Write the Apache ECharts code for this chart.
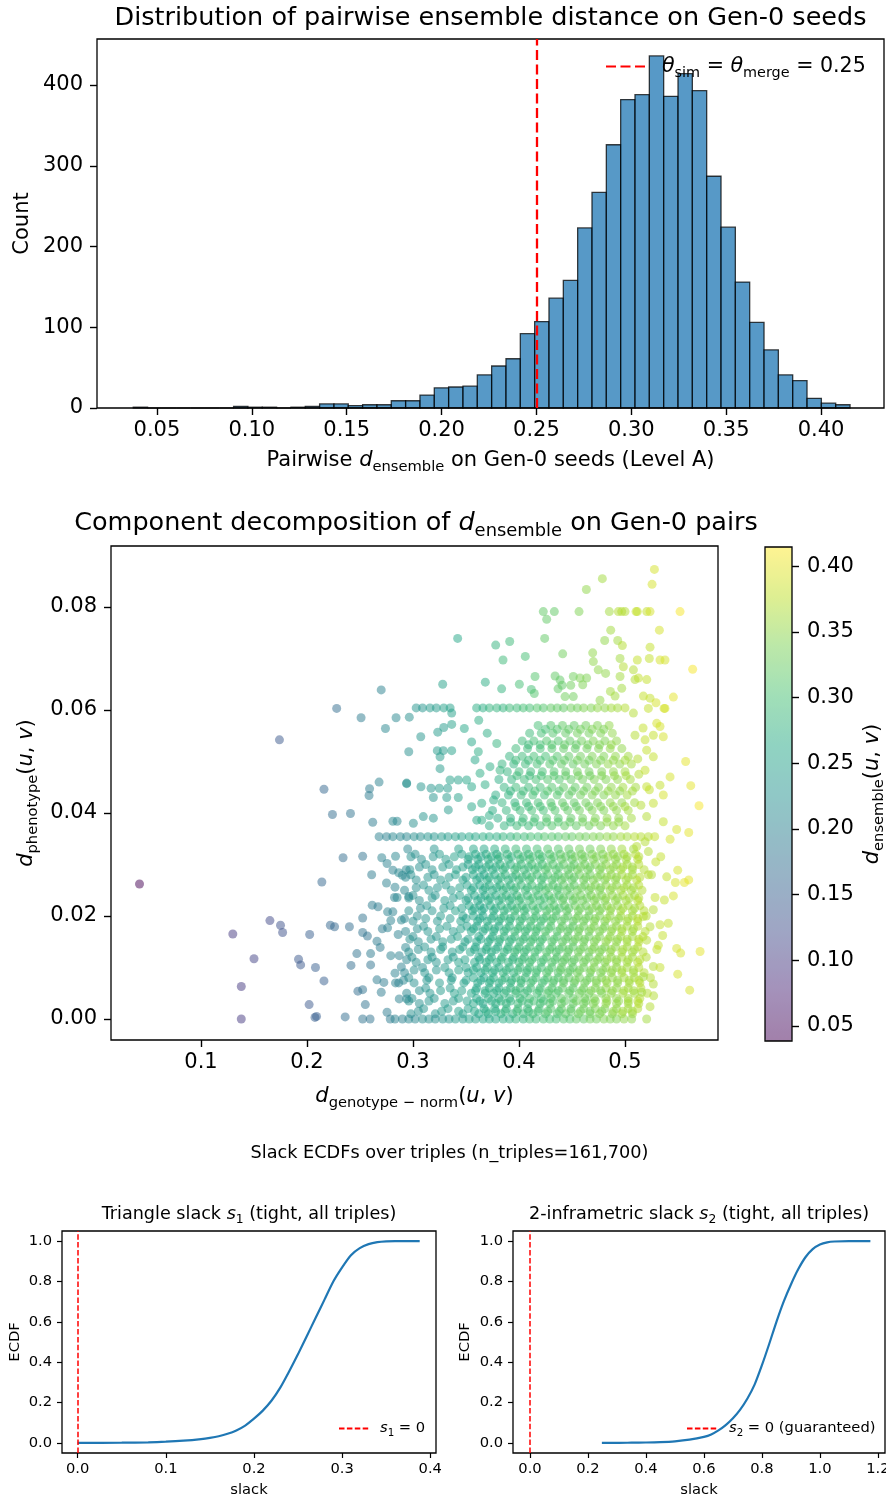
<!DOCTYPE html>
<html>
<head>
<meta charset="utf-8">
<title>Gen-0 ensemble distances</title>
<script src="https://cdn.jsdelivr.net/npm/echarts@6.0.0/dist/echarts.min.js"></script>
<style>
html,body{margin:0;padding:0;background:#ffffff;}
#chart{width:886px;height:1501px;}
</style>
</head>
<body>
<div id="chart"></div>
<script>
// ================= DATA =================
// Histogram of pairwise d_ensemble (50 bins)
const histBinStart = 0.0375;
const histBinWidth = 0.007556;
const histCounts = [1,0,0,0,0,0,0,2,1,1,0,1,2,5,5,3,4,4,9,9,16,25,26,27,41,52,61,92,107,136,158,223,267,326,382,388,436,386,414,393,287,224,156,106,72,41,34,12,6,4];
const theta = 0.25;
const histXTicks = [0.05,0.10,0.15,0.20,0.25,0.30,0.35,0.40];
const histYTicks = [0,100,200,300,400];

// Scatter: rows [d_phenotype, [d_genotype-norm ...], [d_ensemble ...]]
const coreRows = [
[.001,[.298,.321,.347,.362,.371,.383,.394,.404,.413,.425,.436,.444,.456,.467,.476,.488,.497,.507],[.22,.23,.25,.26,.27,.28,.28,.29,.30,.31,.31,.32,.33,.33,.34,.35,.36,.36]],
[.002,[.31,.333,.352,.367,.377,.388,.399,.408,.419,.43,.44,.449,.461,.472,.481,.492,.503,.512],[.23,.24,.25,.26,.27,.28,.29,.29,.30,.31,.32,.32,.33,.34,.34,.35,.36,.37]],
[.003,[.306,.33,.357,.366,.378,.388,.399,.409,.42,.429,.44,.451,.461,.47,.482,.492,.503,.513],[.22,.24,.26,.26,.27,.28,.29,.29,.30,.31,.32,.32,.33,.34,.35,.35,.36,.37]],
[.004,[.299,.32,.343,.36,.371,.381,.391,.401,.41,.421,.43,.44,.451,.462,.471,.482,.492,.503,.514],[.22,.23,.25,.26,.27,.27,.28,.29,.30,.30,.31,.32,.32,.33,.34,.35,.35,.36,.37]],
[.005,[.294,.316,.339,.355,.368,.376,.386,.397,.405,.417,.427,.435,.447,.457,.466,.478,.487,.498,.509,.521],[.21,.23,.25,.26,.27,.27,.28,.29,.29,.30,.31,.31,.32,.33,.33,.34,.35,.36,.36,.37]],
[.006,[.312,.335,.36,.372,.381,.392,.401,.411,.42,.431,.441,.451,.461,.472,.482,.492,.503,.515],[.23,.24,.26,.27,.27,.28,.29,.30,.30,.31,.32,.32,.33,.34,.35,.35,.36,.37]],
[.007,[.301,.325,.348,.361,.372,.381,.392,.402,.411,.422,.432,.442,.452,.462,.473,.483,.493,.504,.514],[.22,.24,.25,.26,.27,.27,.28,.29,.30,.30,.31,.32,.32,.33,.34,.35,.35,.36,.37]],
[.008,[.296,.315,.337,.357,.367,.376,.387,.397,.406,.416,.427,.437,.447,.457,.467,.478,.488,.499,.509,.524],[.22,.23,.24,.26,.26,.27,.28,.29,.29,.30,.31,.31,.32,.33,.33,.34,.35,.36,.36,.37]],
[.009,[.292,.311,.334,.352,.364,.375,.385,.395,.407,.416,.426,.437,.446,.455,.467,.477,.487,.497,.508,.518],[.21,.23,.24,.25,.26,.27,.28,.28,.29,.30,.31,.31,.32,.33,.33,.34,.35,.36,.36,.37]],
[.010,[.309,.33,.35,.36,.37,.381,.391,.401,.41,.421,.431,.44,.451,.461,.471,.482,.492,.502,.513],[.22,.24,.25,.26,.27,.27,.28,.29,.30,.30,.31,.32,.32,.33,.34,.35,.35,.36,.37]],
[.011,[.303,.322,.343,.358,.369,.379,.39,.4,.41,.421,.431,.441,.45,.461,.471,.481,.492,.502,.512],[.22,.23,.25,.26,.27,.27,.28,.29,.30,.30,.31,.32,.32,.33,.34,.34,.35,.36,.37]],
[.012,[.299,.318,.338,.362,.374,.384,.395,.405,.415,.426,.436,.445,.456,.466,.476,.487,.497,.507,.52],[.22,.23,.24,.26,.27,.28,.28,.29,.30,.31,.31,.32,.33,.33,.34,.35,.36,.36,.37]],
[.013,[.296,.317,.337,.354,.365,.374,.386,.396,.405,.415,.426,.435,.446,.456,.466,.476,.486,.497,.507,.517],[.22,.23,.24,.26,.26,.27,.28,.29,.29,.30,.31,.31,.32,.33,.33,.34,.35,.36,.36,.37]],
[.014,[.311,.328,.347,.359,.37,.38,.39,.4,.41,.42,.431,.441,.451,.461,.471,.481,.491,.502,.512],[.23,.24,.25,.26,.27,.27,.28,.29,.30,.30,.31,.32,.32,.33,.34,.34,.35,.36,.37]],
[.015,[.305,.328,.349,.36,.371,.381,.391,.401,.411,.42,.431,.441,.451,.461,.471,.482,.492,.502,.513],[.22,.24,.25,.26,.27,.27,.28,.29,.30,.30,.31,.32,.32,.33,.34,.35,.35,.36,.37]],
[.016,[.3,.322,.342,.362,.375,.386,.396,.406,.415,.425,.436,.446,.456,.466,.476,.486,.496,.507,.517],[.22,.23,.25,.26,.27,.28,.29,.29,.30,.31,.31,.32,.33,.33,.34,.35,.36,.36,.37]],
[.017,[.293,.314,.338,.355,.366,.376,.386,.396,.406,.416,.425,.436,.446,.456,.466,.476,.487,.497,.507,.519],[.21,.23,.24,.26,.26,.27,.28,.29,.29,.30,.31,.31,.32,.33,.33,.34,.35,.36,.36,.37]],
[.018,[.31,.332,.351,.36,.371,.381,.391,.401,.411,.42,.43,.441,.451,.461,.471,.481,.492,.502,.512],[.23,.24,.25,.26,.27,.27,.28,.29,.30,.30,.31,.32,.32,.33,.34,.34,.35,.36,.37]],
[.019,[.3,.323,.345,.361,.37,.381,.391,.401,.411,.421,.43,.44,.451,.461,.471,.481,.491,.502,.512],[.22,.23,.25,.26,.27,.27,.28,.29,.30,.30,.31,.32,.32,.33,.34,.34,.35,.36,.37]],
[.020,[.304,.326,.347,.357,.366,.376,.386,.396,.406,.416,.426,.435,.446,.456,.466,.476,.486,.496,.507,.52],[.22,.24,.25,.26,.26,.27,.28,.29,.29,.30,.31,.31,.32,.33,.33,.34,.35,.36,.36,.37]],
[.021,[.296,.318,.34,.356,.365,.376,.386,.396,.405,.415,.426,.435,.445,.456,.466,.476,.486,.496,.507,.518],[.22,.23,.25,.26,.26,.27,.28,.29,.29,.30,.31,.31,.32,.33,.33,.34,.35,.36,.36,.37]],
[.022,[.313,.335,.353,.363,.373,.383,.393,.403,.413,.423,.433,.443,.453,.463,.473,.483,.493,.503,.514],[.23,.24,.26,.26,.27,.28,.28,.29,.30,.30,.31,.32,.33,.33,.34,.35,.35,.36,.37]],
[.023,[.306,.33,.35,.361,.371,.381,.391,.4,.41,.42,.43,.441,.451,.46,.471,.481,.491,.501,.512],[.22,.24,.25,.26,.27,.27,.28,.29,.30,.30,.31,.32,.32,.33,.34,.34,.35,.36,.37]],
[.024,[.3,.321,.344,.358,.368,.378,.388,.398,.408,.418,.428,.438,.448,.458,.468,.478,.488,.498,.509],[.22,.23,.25,.26,.27,.27,.28,.29,.29,.30,.31,.31,.32,.33,.34,.34,.35,.36,.36]],
[.025,[.292,.315,.336,.355,.366,.375,.385,.395,.406,.416,.425,.436,.445,.455,.466,.476,.486,.496,.506,.516],[.21,.23,.24,.26,.26,.27,.28,.28,.29,.30,.31,.31,.32,.33,.33,.34,.35,.36,.36,.37]],
[.026,[.31,.331,.351,.363,.372,.382,.392,.402,.412,.422,.432,.442,.452,.462,.472,.482,.492,.502,.513],[.23,.24,.25,.26,.27,.28,.28,.29,.30,.30,.31,.32,.32,.33,.34,.35,.35,.36,.37]],
[.027,[.303,.326,.347,.36,.37,.38,.39,.4,.41,.421,.431,.44,.45,.461,.47,.481,.491,.501,.511],[.22,.24,.25,.26,.27,.27,.28,.29,.30,.30,.31,.32,.32,.33,.34,.34,.35,.36,.37]],
[.028,[.298,.32,.34,.357,.367,.377,.387,.397,.407,.417,.427,.437,.447,.457,.467,.477,.487,.497,.507,.522],[.22,.23,.25,.26,.26,.27,.28,.29,.29,.30,.31,.31,.32,.33,.33,.34,.35,.36,.36,.37]],
[.029,[.297,.318,.341,.356,.365,.375,.385,.396,.405,.415,.425,.435,.446,.455,.465,.476,.486,.496,.507,.518],[.22,.23,.25,.26,.26,.27,.28,.29,.29,.30,.31,.31,.32,.33,.33,.34,.35,.36,.36,.37]],
[.030,[.312,.334,.352,.362,.372,.382,.392,.402,.412,.422,.432,.442,.452,.462,.472,.482,.492,.502,.513],[.23,.24,.25,.26,.27,.28,.28,.29,.30,.30,.31,.32,.32,.33,.34,.35,.35,.36,.37]],
[.031,[.308,.331,.352,.361,.371,.38,.39,.401,.41,.42,.43,.44,.45,.46,.47,.48,.491,.501,.512],[.22,.24,.25,.26,.27,.27,.28,.29,.30,.30,.31,.32,.32,.33,.34,.34,.35,.36,.37]],
[.032,[.302,.325,.346,.359,.369,.379,.389,.399,.409,.419,.429,.439,.449,.459,.469,.479,.489,.499,.51],[.22,.24,.25,.26,.27,.27,.28,.29,.29,.30,.31,.32,.32,.33,.34,.34,.35,.36,.37]],
[.033,[.295,.32,.343,.357,.367,.377,.387,.397,.407,.417,.427,.437,.447,.457,.467,.477,.487,.497,.508],[.21,.23,.25,.26,.26,.27,.28,.29,.29,.30,.31,.31,.32,.33,.33,.34,.35,.36,.36]]
];
const coreFillRows = [
[.0015,[.358,.369,.378,.387,.398,.409,.418,.427,.438,.449,.458,.467,.478,.489,.498,.507],[.26,.27,.27,.28,.29,.29,.30,.31,.31,.32,.33,.33,.34,.35,.36,.36]],
[.0035,[.363,.374,.383,.392,.403,.414,.423,.432,.443,.454,.463,.472,.483,.494,.503,.512],[.26,.27,.28,.28,.29,.30,.30,.31,.32,.33,.33,.34,.35,.35,.36,.37]],
[.0055,[.359,.368,.379,.388,.397,.408,.419,.428,.437,.448,.459,.468,.477,.488,.499,.508],[.26,.27,.27,.28,.29,.29,.30,.31,.31,.32,.33,.34,.34,.35,.36,.36]],
[.0075,[.364,.373,.384,.393,.402,.413,.424,.433,.442,.453,.464,.473,.482,.493,.504,.513],[.26,.27,.28,.28,.29,.30,.30,.31,.32,.33,.33,.34,.35,.35,.36,.37]],
[.0095,[.357,.368,.377,.388,.399,.408,.417,.428,.439,.448,.457,.468,.479,.488,.497,.508],[.26,.27,.27,.28,.29,.29,.30,.31,.32,.32,.33,.34,.34,.35,.36,.36]],
[.0115,[.363,.372,.383,.394,.403,.412,.423,.434,.443,.452,.463,.474,.483,.492,.503,.514],[.26,.27,.28,.28,.29,.30,.30,.31,.32,.32,.33,.34,.35,.35,.36,.37]],
[.0135,[.358,.369,.378,.389,.398,.407,.418,.429,.438,.447,.458,.469,.478,.487,.498,.509],[.26,.27,.27,.28,.29,.29,.30,.31,.31,.32,.33,.34,.34,.35,.36,.36]],
[.0155,[.364,.373,.382,.393,.404,.413,.422,.433,.444,.453,.462,.473,.484,.493,.502,.513],[.26,.27,.28,.28,.29,.30,.30,.31,.32,.33,.33,.34,.35,.35,.36,.37]],
[.0175,[.357,.368,.377,.388,.399,.408,.417,.428,.439,.448,.457,.468,.479,.488,.497,.508],[.26,.27,.27,.28,.29,.29,.30,.31,.32,.32,.33,.34,.34,.35,.36,.36]],
[.0195,[.363,.374,.383,.392,.403,.414,.423,.432,.443,.454,.463,.472,.483,.494,.503,.512],[.26,.27,.28,.28,.29,.30,.30,.31,.32,.33,.33,.34,.35,.35,.36,.37]],
[.0215,[.358,.367,.378,.389,.398,.407,.418,.429,.438,.447,.458,.469,.478,.487,.498,.509],[.26,.26,.27,.28,.29,.29,.30,.31,.31,.32,.33,.34,.34,.35,.36,.36]],
[.0235,[.364,.373,.384,.393,.402,.413,.424,.433,.442,.453,.464,.473,.482,.493,.504,.513],[.26,.27,.28,.28,.29,.30,.30,.31,.32,.33,.33,.34,.35,.35,.36,.37]],
[.0255,[.357,.368,.379,.388,.397,.408,.419,.428,.437,.448,.459,.468,.477,.488,.499,.508],[.26,.27,.27,.28,.29,.29,.30,.31,.31,.32,.33,.34,.34,.35,.36,.36]],
[.0275,[.363,.372,.383,.394,.403,.412,.423,.434,.443,.452,.463,.474,.483,.492,.503,.514],[.26,.27,.28,.28,.29,.30,.30,.31,.32,.32,.33,.34,.35,.35,.36,.37]],
[.0295,[.359,.369,.378,.387,.398,.409,.418,.427,.438,.449,.458,.467,.478,.489,.498,.507],[.26,.27,.27,.28,.29,.29,.30,.31,.31,.32,.33,.33,.34,.35,.36,.36]],
[.0315,[.364,.374,.382,.393,.404,.413,.422,.433,.444,.453,.462,.473,.484,.493,.502,.513],[.26,.27,.28,.28,.29,.30,.30,.31,.32,.33,.33,.34,.35,.35,.36,.37]]
];
const leftFillRows = [
[.0015,[.305,.327,.343],[.22,.24,.25]],
[.0035,[.296,.315,.338,.351],[.22,.23,.24,.25]],
[.0055,[.306,.326,.346],[.22,.24,.25]],
[.0075,[.291,.313,.336,.35],[.21,.23,.24,.25]],
[.0095,[.301,.322,.343],[.22,.23,.25]],
[.0115,[.294,.314,.333,.349],[.21,.23,.24,.25]],
[.0135,[.305,.326,.344],[.22,.24,.25]],
[.0155,[.297,.317,.336,.352],[.22,.23,.24,.25]],
[.0175,[.304,.325,.345],[.22,.24,.25]],
[.0195,[.292,.312,.335,.35],[.21,.23,.24,.25]],
[.0215,[.307,.329,.346],[.22,.24,.25]],
[.0235,[.296,.318,.338,.352],[.22,.23,.24,.25]],
[.0255,[.303,.323,.344],[.22,.23,.25]],
[.0275,[.293,.314,.334,.35],[.21,.23,.24,.25]],
[.0295,[.306,.328,.347],[.22,.24,.25]],
[.0315,[.298,.319,.339,.353],[.22,.23,.25,.26]]
];
const upperRows = [
[.0375,[.372,.386,.398,.409,.42,.431,.443,.454,.466,.477,.489,.5],[.27,.28,.29,.29,.30,.31,.32,.32,.33,.34,.35,.36]],
[.039,[.38,.392,.404,.415,.426,.437,.449,.46,.472,.483,.494,.506],[.27,.28,.29,.30,.31,.31,.32,.33,.34,.35,.35,.36]],
[.0405,[.375,.388,.401,.412,.423,.434,.446,.457,.469,.48,.492,.503],[.27,.28,.29,.30,.30,.31,.32,.33,.34,.34,.35,.36]],
[.042,[.384,.396,.407,.418,.43,.441,.452,.463,.474,.486,.497,.509],[.28,.28,.29,.30,.31,.32,.32,.33,.34,.35,.35,.36]],
[.0435,[.378,.39,.402,.413,.424,.436,.447,.458,.469,.48,.491,.502],[.27,.28,.29,.30,.30,.31,.32,.33,.34,.34,.35,.36]],
[.045,[.386,.397,.409,.42,.431,.442,.453,.464,.475,.487,.498,.51],[.28,.29,.29,.30,.31,.32,.32,.33,.34,.35,.36,.36]],
[.0465,[.381,.393,.405,.416,.427,.438,.449,.46,.471,.482,.493,.505],[.27,.28,.29,.30,.31,.31,.32,.33,.34,.34,.35,.36]],
[.048,[.389,.4,.411,.422,.433,.444,.455,.466,.478,.489,.5],[.28,.29,.29,.30,.31,.32,.33,.33,.34,.35,.36]],
[.0495,[.384,.395,.406,.417,.429,.44,.451,.462,.473,.484,.495,.506],[.28,.28,.29,.30,.31,.32,.32,.33,.34,.35,.35,.36]],
[.051,[.391,.403,.414,.425,.436,.447,.458,.469,.48,.491,.503],[.28,.29,.30,.30,.31,.32,.33,.34,.34,.35,.36]],
[.0525,[.397,.408,.42,.431,.442,.453,.464,.475,.486,.497],[.29,.29,.30,.31,.32,.32,.33,.34,.35,.35]],
[.054,[.403,.414,.426,.437,.448,.459,.47,.481,.492],[.29,.30,.31,.31,.32,.33,.34,.34,.35]],
[.0555,[.41,.421,.432,.444,.455,.466,.477,.488],[.29,.30,.31,.32,.33,.33,.34,.35]],
[.057,[.418,.43,.441,.452,.463,.474,.485],[.30,.31,.32,.32,.33,.34,.35]]
];
const upperFillRows = [
[.03825,[.392,.403,.414,.426,.437,.448,.46,.471,.483,.494],[.28,.29,.30,.31,.31,.32,.33,.34,.35,.35]],
[.04125,[.397,.409,.42,.431,.443,.454,.466,.477,.489,.5],[.29,.29,.30,.31,.32,.32,.33,.34,.35,.36]],
[.04425,[.392,.404,.415,.427,.438,.45,.461,.472,.484,.495,.507],[.28,.29,.30,.31,.31,.32,.33,.34,.35,.35,.36]],
[.04725,[.398,.41,.421,.433,.444,.456,.467,.478,.49,.501],[.29,.29,.30,.31,.32,.33,.33,.34,.35,.36]],
[.05025,[.397,.409,.42,.432,.443,.455,.466,.477,.489,.5],[.29,.29,.30,.31,.32,.33,.33,.34,.35,.36]],
[.05325,[.409,.42,.431,.443,.454,.465,.476,.487],[.29,.30,.31,.32,.32,.33,.34,.35]],
[.05625,[.425,.436,.447,.458,.469,.48],[.30,.31,.32,.33,.34,.34]]
];
const bandRows = [
[0,[.29,.296,.302,.309,.315,.321,.328,.334,.34,.347,.353,.359,.366,.372,.378,.385,.391,.397,.404,.41,.416,.423,.429,.435,.442,.448,.454,.461,.467,.473,.48,.486,.492,.499],
 [.20,.21,.21,.22,.22,.22,.23,.23,.24,.24,.25,.25,.26,.26,.26,.27,.27,.28,.28,.29,.29,.30,.30,.30,.31,.31,.32,.32,.33,.33,.34,.34,.34,.35]],
[.0354,[.268,.275,.281,.288,.294,.301,.307,.314,.32,.327,.333,.34,.346,.353,.359,.366,.372,.379,.385,.392,.398,.405,.411,.418,.424,.431,.437,.444,.45,.457,.463,.47,.476,.483,.489,.496,.502,.509,.515,.522,.528],
 [.20,.20,.21,.21,.21,.22,.22,.23,.23,.24,.24,.25,.25,.26,.26,.27,.27,.27,.28,.28,.29,.29,.30,.30,.31,.31,.31,.32,.32,.33,.33,.34,.34,.35,.35,.36,.36,.37,.37,.37,.38]],
[.0604,[.303,.309,.316,.322,.329,.335,.36,.366,.372,.379,.385,.391,.398,.404,.41,.417,.423,.43,.436,.442,.449,.455,.461,.468,.474,.481,.487,.493,.5],
 [.23,.23,.24,.24,.25,.25,.27,.27,.28,.28,.28,.29,.29,.30,.30,.31,.31,.32,.32,.32,.33,.33,.34,.34,.35,.35,.36,.36,.37]]
];
// individual points [d_genotype-norm, d_phenotype, d_ensemble]
const sparseLeft = [
[.042,.0262,.039],[.174,.0542,.14],[.13,.0165,.10],[.15,.0117,.11],[.138,.0063,.10],[.138,0,.10],[.165,.0191,.12],[.175,.0182,.13],[.177,.0168,.13],[.192,.0116,.14],
[.194,.0105,.14],[.2025,.0164,.15],[.208,.01,.15],[.216,.0074,.15],[.202,.0028,.14],[.2075,.0003,.15],[.209,.0005,.15],[.214,.0266,.16],[.228,.0603,.17],[.216,.0446,.16],
[.224,.0397,.17],[.241,.0399,.18],[.234,.0313,.17],[.222,.0182,.16],[.226,.0179,.16],[.24,.0179,.17],[.236,.0004,.17],[.2415,.0104,.17],[.247,.0127,.18],[.251,.0585,.19],
[.27,.0639,.20],[.274,.0564,.21],[.284,.0585,.21],[.2965,.0586,.22],[.296,.0519,.22],[.268,.046,.20],[.259,.0447,.19],[.2585,.0434,.19],[.294,.0457,.22],[.262,.0382,.19],
[.281,.0384,.21],[.285,.0384,.21],[.2525,.0316,.18],[.2705,.0313,.20],[.2835,.0316,.21],[.2755,.0302,.20],[.281,.0289,.20],[.2865,.0284,.21],[.29,.0279,.21],[.2935,.029,.21],
[.261,.028,.19],[.275,.0264,.20],[.283,.0256,.20],[.2825,.0236,.20],[.285,.0236,.21],[.296,.0238,.21],[.2615,.0221,.19],[.267,.0218,.19],[.276,.0208,.20],[.281,.0208,.20],
[.289,.0192,.21],[.279,.0191,.20],[.2525,.0196,.18],[.2525,.0168,.18],[.257,.0161,.18],[.276,.0177,.20],[.271,.0175,.19],[.286,.0164,.20],[.266,.0151,.19],[.269,.0139,.19],
[.279,.0123,.20],[.287,.0123,.20],[.293,.0139,.21],[.26,.0127,.19],[.26,.0105,.18],[.289,.0101,.20],[.283,.0089,.20],[.266,.0076,.19],[.2725,.0071,.19],[.2835,.007,.20],
[.2865,.007,.20],[.27,.0052,.19],[.248,.0054,.17],[.2525,.0057,.18],[.255,.0028,.18],[.287,.0039,.20],[.294,.0039,.21],[.2755,.0013,.19],[.2525,0,.18],[.2595,0,.18],
[.2785,0,.19],[.283,0,.20]
];
const upperLeft = [
[.3073,.0548,.23],[.3233,.0557,.24],[.329,.0566,.24],[.3365,.0572,.25],[.3484,.0564,.26],[.3365,.0594,.25],[.3229,.0521,.24],[.3286,.0521,.24],[.3365,.0521,.25],[.3255,.0509,.24],
[.3255,.0486,.24],[.3075,.0451,.23],[.294,.0458,.22],[.317,.0448,.23],[.3248,.0448,.24],[.3327,.0448,.24],[.3349,.0464,.25],[.3427,.0464,.25],[.3506,.0464,.26],[.3192,.043,.23],
[.3318,.043,.24],[.3427,.043,.25],[.3553,.0538,.26],[.3616,.0519,.27],[.3585,.0503,.26],[.3726,.049,.27],[.3821,.0483,.28],[.3632,.0477,.27],[.3553,.0451,.26],[.3553,.0412,.26],
[.3648,.0419,.27],[.3333,.0406,.24],[.3097,.0393,.23],[.3192,.039,.23],[.3003,.038,.22],[.3601,.0386,.26],[.3648,.0386,.27],[.37,.0555,.27],[.376,.0425,.27],[.368,.0455,.27],
[.379,.0535,.28],[.372,.0395,.27],[.362,.058,.27]
];
const upperSparse = [
[.5277,.0873,.39],[.4786,.0855,.36],[.5255,.0844,.39],[.4635,.0834,.35],
[.4229,.0791,.32],[.4333,.0791,.32],[.4566,.0791,.34],[.4852,.0791,.36],[.4937,.0791,.37],[.4969,.0791,.37],[.5,.0791,.37],[.5104,.0791,.38],[.5116,.0791,.38],[.5205,.0791,.38],[.5236,.0791,.39],[.5519,.0791,.41],
[.4261,.0776,.32],[.4865,.0755,.36],[.5324,.0755,.39],[.3421,.0739,.26],[.4242,.0739,.32],[.4808,.0735,.35],[.4931,.0735,.36],[.4975,.0725,.37],[.378,.0726,.28],[.3912,.0733,.29],
[.5236,.0722,.38],[.4695,.0711,.35],[.4412,.0709,.33],[.4059,.0704,.30],[.3849,.0697,.29],[.4953,.07,.36],[.5116,.0697,.38],[.5229,.07,.38],[.533,.0697,.39],[.5377,.0697,.39],
[.4701,.0694,.35],[.5638,.0679,.41],[.4984,.0684,.37],[.4747,.0678,.35],[.4817,.0671,.35],[.4151,.0665,.31],[.434,.0666,.32],[.5079,.0678,.37],[.5126,.0662,.38],[.5205,.0659,.38],
[.5094,.0659,.37],[.328,.065,.25],[.3682,.0654,.27],[.3836,.0641,.28],[.4003,.065,.30],[.4116,.064,.30],[.4144,.0632,.31],[.4368,.0641,.32],[.4406,.0648,.32],[.4488,.0648,.33],
[.4434,.0626,.33],[.4512,.0626,.33],[.4575,.0662,.34],[.4638,.0662,.34],[.4601,.0649,.34],[.4862,.0636,.36],[.4906,.0627,.36],[.4953,.0665,.36],[.4969,.0642,.36],[.5456,.0625,.40],
[.5173,.0627,.38],[.5236,.0623,.38],[.5292,.0614,.39],[.5368,.0603,.39],[.4764,.0619,.35],[.4387,.0658,.32],[.4512,.0665,.33]
];
const rightSparse = [
[.5079,.0594,.37],[.522,.0603,.38],[.5299,.0574,.39],[.5377,.0603,.39],[.533,.0568,.39],[.5361,.0548,.39],[.5267,.0551,.38],[.5189,.0542,.38],[.5094,.0551,.37],[.5204,.0522,.38],
[.5267,.0509,.38],[.5189,.0483,.38],[.5204,.0451,.38],[.533,.0454,.38],[.5361,.0435,.39],[.5425,.047,.39],[.5267,.0419,.38],[.5204,.0393,.37],[.5361,.0383,.38],[.5189,.0344,.37],
[.511,.0335,.37],[.5572,.05,.40],[.562,.0453,.40],[.5698,.0414,.41],[.5487,.0368,.39],[.5601,.0362,.40],[.5425,.0349,.39],[.5337,.0315,.38],[.5497,.0289,.39],[.5393,.0276,.38],
[.5475,.0265,.39],[.556,.0265,.40],[.5601,.027,.40],[.5456,.0239,.39],[.5371,.0231,.38],[.5283,.0236,.38],[.5408,.0186,.38],[.533,.0183,.38],[.5236,.0179,.37],[.5487,.0137,.39],
[.5525,.0128,.39],[.5708,.0131,.40],[.5497,.0087,.39],[.561,.0056,.39],[.5204,0,.36],[.5063,0,.35],[.5267,.0102,.37],[.533,.01,.38],[.5173,.0082,.36],[.5157,.0052,.36],
[.5267,.0068,.37],[.5267,.0212,.37],[.5173,.0199,.37],[.5204,.0153,.37],[.5236,.0024,.37],[.5355,.0162,.38],[.5314,.0143,.38],[.515,.0415,.37],[.513,.0475,.37],[.517,.0565,.38],
[.512,.0505,.37],[.523,.0445,.38],[.525,.028,.37],[.529,.0305,.38],[.522,.0325,.37],[.527,.0045,.37],[.53,.0135,.38]
];
const scatterXTicks = [0.1,0.2,0.3,0.4,0.5];
const scatterYTicks = [0,0.02,0.04,0.06,0.08];
const colorbarTicks = [0.05,0.10,0.15,0.20,0.25,0.30,0.35,0.40];
const ensembleMin = 0.0386, ensembleMax = 0.4145;

// ECDFs of slack
const ecdf1X = [0,.05,.08,.1,.12,.14,.15,.16,.17,.18,.19,.2,.21,.22,.23,.24,.25,.26,.27,.28,.29,.3,.31,.32,.33,.34,.35,.36,.388];
const ecdf1Y = [0,.001,.003,.006,.011,.019,.025,.033,.045,.062,.086,.12,.16,.21,.275,.355,.44,.53,.62,.71,.80,.87,.93,.965,.985,.995,.999,1,1];
const ecdf2X = [.248,.3,.35,.4,.45,.5,.55,.6,.625,.65,.675,.7,.725,.75,.775,.8,.825,.85,.875,.9,.925,.95,.975,1.0,1.025,1.05,1.1,1.174];
const ecdf2Y = [0,0,.001,.002,.004,.008,.016,.03,.042,.062,.088,.122,.165,.22,.29,.385,.49,.6,.7,.785,.86,.92,.96,.983,.994,.998,1,1];
const slackZero = 0;
const ecdf1XTicks = [0,0.1,0.2,0.3,0.4];
const ecdf2XTicks = [0,0.2,0.4,0.6,0.8,1.0,1.2];
const ecdfYTicks = [0,0.2,0.4,0.6,0.8,1.0];

// ================= BUILD =================
const FONT = 'DejaVu Sans';
const BLACK = '#000000';
const viridis = ['#440154','#482475','#414487','#355f8d','#2a788e','#21918c','#22a884','#44bf70','#7ad151','#bddf26','#fde725'];
const viridisPale = ['#a280aa','#a491ba','#a0a2c3','#9aafc6','#94bbc6','#90c8c6','#90d3c1','#a1dfb7','#bce8a8','#deef92','#fef392'];

const histData = histCounts.map((c, i) => [histBinStart + i * histBinWidth, histBinStart + (i + 1) * histBinWidth, c]);
const scatterData = [];
[coreRows, coreFillRows, leftFillRows, upperRows, upperFillRows, bandRows].forEach(rows => rows.forEach(r => r[1].forEach((x, j) => scatterData.push([x, r[0], r[2][j]]))));
[sparseLeft, upperLeft, upperSparse, rightSparse].forEach(a => a.forEach(p => scatterData.push(p)));
const ecdf1 = ecdf1X.map((x, i) => [x, ecdf1Y[i]]);
const ecdf2 = ecdf2X.map((x, i) => [x, ecdf2Y[i]]);

function rich(base) {
  const lh = Math.round(base * 1.35);
  return {
    n: {fontSize: base, fontFamily: FONT, color: BLACK, lineHeight: lh},
    it: {fontSize: base, fontFamily: FONT, fontStyle: 'italic', color: BLACK, lineHeight: lh},
    sub: {fontSize: Math.round(base * 7) / 10, fontFamily: FONT, color: BLACK, verticalAlign: 'bottom'}
  };
}
function axis(o) {
  return {
    type: 'value',
    gridIndex: o.grid,
    min: o.min, max: o.max,
    position: o.position,
    axisLine: {show: false, onZero: false},
    splitLine: {show: false},
    axisTick: {show: true, inside: false, length: o.tick, lineStyle: {color: BLACK, width: o.tw || 1.4}, customValues: o.ticks},
    axisLabel: {show: true, margin: o.margin, fontSize: o.fs, fontFamily: FONT, color: BLACK, customValues: o.ticks, formatter: o.fmt},
    name: o.name, nameLocation: 'middle', nameGap: o.gap, nameMoveOverlap: false,
    nameTextStyle: {fontSize: o.fs, fontFamily: FONT, color: BLACK, rich: rich(o.fs)}
  };
}
function frame(left, top, width, height) {
  return {left, top, width, height, show: true, borderColor: BLACK, borderWidth: 1.3, backgroundColor: 'transparent', containLabel: false, outerBoundsMode: 'none', z: 5};
}
const markLineRed = (val, width, dash) => ({
  silent: true, symbol: ['none', 'none'], label: {show: false}, animation: false,
  lineStyle: {color: '#ff0000', width: width, type: dash}, data: [{xAxis: val}]
});
const hiddenSymbol = {color: 'rgba(0,0,0,0)', borderColor: 'rgba(0,0,0,0)', borderWidth: 0};

const option = {
  animation: false,
  backgroundColor: '#ffffff',
  textStyle: {fontFamily: FONT},
  grid: [
    frame(97, 39, 787, 369),
    frame(111, 546, 607, 494),
    frame(765, 547, 27, 494),
    frame(62, 1231, 374, 222),
    frame(513, 1231, 372, 222)
  ],
  xAxis: [
    axis({grid: 0, min: 0.0184, max: 0.4332, tick: 7, margin: 12.5, fs: 21, ticks: histXTicks, fmt: v => v.toFixed(2),
      name: '{n|Pairwise }{it|d}{sub|ensemble}{n| on Gen-0 seeds (Level A)}', gap: 39}),
    axis({grid: 1, min: 0.0151, max: 0.5877, tick: 7, margin: 12.5, fs: 21, ticks: scatterXTicks, fmt: v => v.toFixed(1),
      name: '{it|d}{sub|genotype \u2212 norm}{n|(}{it|u}{n|, }{it|v}{n|)}', gap: 43}),
    {type: 'value', gridIndex: 2, show: false, min: 0, max: 1},
    axis({grid: 3, min: -0.0178, max: 0.4065, tick: 5, tw: 1.2, margin: 8.3, fs: 14.7, ticks: ecdf1XTicks, fmt: v => v.toFixed(1),
      name: '{n|slack}', gap: 27}),
    axis({grid: 4, min: -0.0585, max: 1.2244, tick: 5, tw: 1.2, margin: 8.3, fs: 14.7, ticks: ecdf2XTicks, fmt: v => v.toFixed(1),
      name: '{n|slack}', gap: 27})
  ],
  yAxis: [
    axis({grid: 0, min: 0, max: 457, tick: 7, margin: 14, fs: 21, ticks: histYTicks, fmt: v => String(v), name: '{n|Count}', gap: 60}),
    axis({grid: 1, min: -0.00408, max: 0.09184, tick: 7, margin: 14, fs: 21, ticks: scatterYTicks, fmt: v => v.toFixed(2),
      name: '{it|d}{sub|phenotype}{n|(}{it|u}{n|, }{it|v}{n|)}', gap: 70}),
    axis({grid: 2, position: 'right', min: ensembleMin, max: ensembleMax, tick: 7, margin: 15, fs: 21, ticks: colorbarTicks, fmt: v => v.toFixed(2),
      name: '{it|d}{sub|ensemble}{n|(}{it|u}{n|, }{it|v}{n|)}', gap: 67}),
    axis({grid: 3, min: -0.05, max: 1.05, tick: 5, tw: 1.2, margin: 10, fs: 14.7, ticks: ecdfYTicks, fmt: v => v.toFixed(1), name: '{n|ECDF}', gap: 37}),
    axis({grid: 4, min: -0.05, max: 1.05, tick: 5, tw: 1.2, margin: 10, fs: 14.7, ticks: ecdfYTicks, fmt: v => v.toFixed(1), name: '{n|ECDF}', gap: 38})
  ],
  visualMap: [{
    type: 'continuous', seriesIndex: 2, dimension: 2, min: ensembleMin, max: ensembleMax,
    calculable: false, realtime: false, hoverLink: false, orient: 'vertical',
    left: 765, top: 547, itemWidth: 27, itemHeight: 494, padding: 0, text: null, z: 1,
    inRange: {color: viridis}, controller: {inRange: {color: viridisPale}}
  }],
  legend: [
    {data: ['theta'], left: 605, top: 56, padding: 0, itemWidth: 42, itemHeight: 14, selectedMode: false, itemStyle: hiddenSymbol,
     formatter: () => '{it|\u03b8}{sub|sim}{n| = }{it|\u03b8}{sub|merge}{n| = ' + theta.toFixed(2) + '}',
     textStyle: {rich: rich(20.6), padding: [0, 0, 0, 9]}},
    {data: ['s1'], left: 338, top: 1421, padding: 0, itemWidth: 30, itemHeight: 10, selectedMode: false, itemStyle: hiddenSymbol,
     formatter: () => '{it|s}{sub|1}{n| = 0}', textStyle: {rich: rich(14.7), padding: [0, 0, 0, 6]}},
    {data: ['s2'], left: 686, top: 1421, padding: 0, itemWidth: 30, itemHeight: 10, selectedMode: false, itemStyle: hiddenSymbol,
     formatter: () => '{it|s}{sub|2}{n| = 0 (guaranteed)}', textStyle: {rich: rich(14.7), padding: [0, 0, 0, 7]}}
  ],
  graphic: [
    {type: 'text', x: 490.5, y: 18, style: {text: '{n|Distribution of pairwise ensemble distance on Gen-0 seeds}', rich: rich(25.5), align: 'center', verticalAlign: 'middle'}},
    {type: 'text', x: 416, y: 523, style: {text: '{n|Component decomposition of }{it|d}{sub|ensemble}{n| on Gen-0 pairs}', rich: rich(25.5), align: 'center', verticalAlign: 'middle'}},
    {type: 'text', x: 449.5, y: 1153, style: {text: '{n|Slack ECDFs over triples (n_triples=161,700)}', rich: rich(17.7), align: 'center', verticalAlign: 'middle'}},
    {type: 'text', x: 249, y: 1214, style: {text: '{n|Triangle slack }{it|s}{sub|1}{n| (tight, all triples)}', rich: rich(17.6), align: 'center', verticalAlign: 'middle'}},
    {type: 'text', x: 699, y: 1214, style: {text: '{n|2-inframetric slack }{it|s}{sub|2}{n| (tight, all triples)}', rich: rich(17.6), align: 'center', verticalAlign: 'middle'}}
  ],
  series: [
    {type: 'custom', name: 'hist', xAxisIndex: 0, yAxisIndex: 0, data: histData, encode: {x: [0, 1], y: 2}, silent: true, z: 2,
     renderItem: (params, api) => {
       const p0 = api.coord([api.value(0), api.value(2)]);
       const p1 = api.coord([api.value(1), 0]);
       return {type: 'rect', shape: {x: p0[0], y: p0[1], width: p1[0] - p0[0], height: p1[1] - p0[1]},
               style: {fill: 'rgba(31,119,180,0.75)', stroke: 'rgba(0,0,0,0.75)', lineWidth: 1.3}};
     }},
    {type: 'line', name: 'theta', xAxisIndex: 0, yAxisIndex: 0, data: [], symbol: 'none', showSymbol: false, z: 3,
     itemStyle: {color: '#ff0000'}, lineStyle: {color: '#ff0000', width: 2.3, type: [10, 4.5]}, markLine: markLineRed(theta, 2.3, [10, 4.5])},
    {type: 'scatter', name: 'pairs', xAxisIndex: 1, yAxisIndex: 1, data: scatterData, symbol: 'circle', symbolSize: 9, silent: true,
     itemStyle: {opacity: 0.5}},
    {type: 'line', name: 'ecdf1', xAxisIndex: 3, yAxisIndex: 3, data: ecdf1, symbol: 'none', smooth: 0.25, silent: true,
     itemStyle: {color: '#1f77b4'}, lineStyle: {color: '#1f77b4', width: 2.2}},
    {type: 'line', name: 's1', xAxisIndex: 3, yAxisIndex: 3, data: [], symbol: 'none', showSymbol: false,
     itemStyle: {color: '#ff0000'}, lineStyle: {color: '#ff0000', width: 1.5, type: [5.5, 2.4]}, markLine: markLineRed(slackZero, 1.5, [5.5, 2.4])},
    {type: 'line', name: 'ecdf2', xAxisIndex: 4, yAxisIndex: 4, data: ecdf2, symbol: 'none', smooth: 0.25, silent: true,
     itemStyle: {color: '#1f77b4'}, lineStyle: {color: '#1f77b4', width: 2.2}},
    {type: 'line', name: 's2', xAxisIndex: 4, yAxisIndex: 4, data: [], symbol: 'none', showSymbol: false,
     itemStyle: {color: '#ff0000'}, lineStyle: {color: '#ff0000', width: 1.5, type: [5.5, 2.4]}, markLine: markLineRed(slackZero, 1.5, [5.5, 2.4])}
  ]
};

const chart = echarts.init(document.getElementById('chart'), null, {renderer: 'canvas', width: 886, height: 1501});
chart.setOption(option);
</script>
</body>
</html>
